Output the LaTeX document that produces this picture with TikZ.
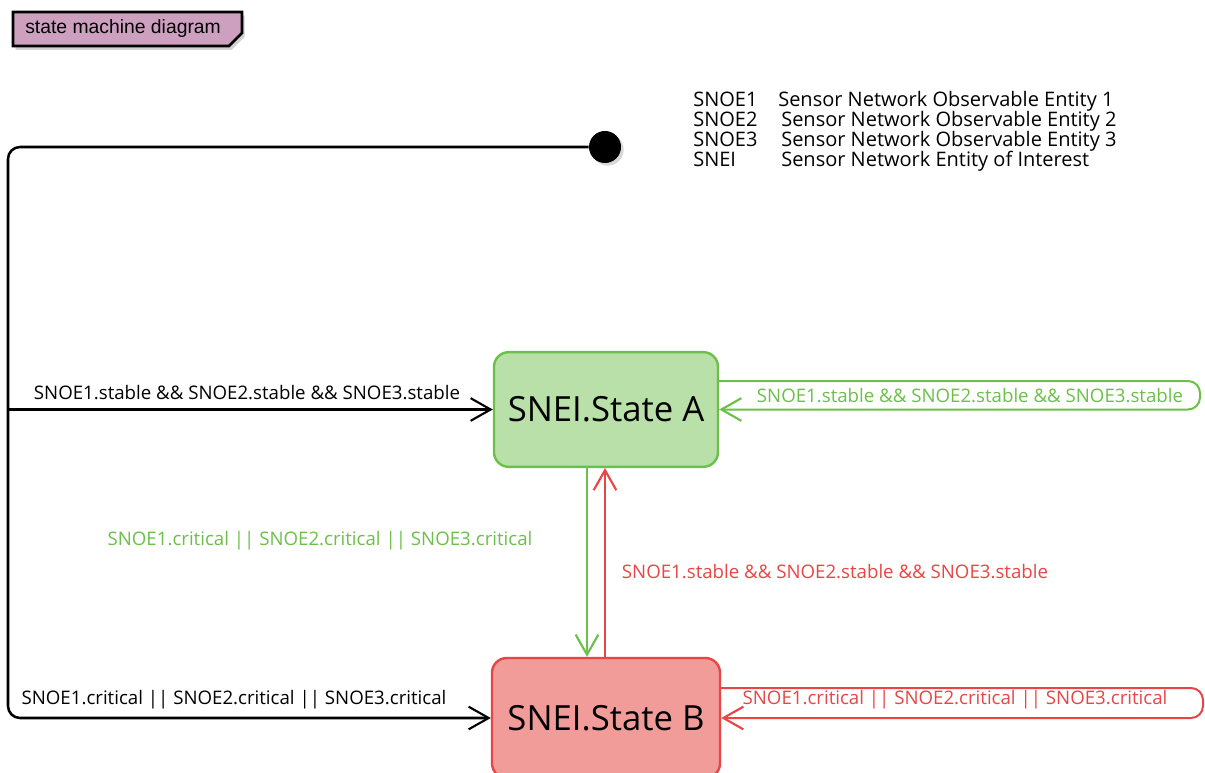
\documentclass[tikz,border=0pt]{standalone}
\usepackage{fontspec}
\setmainfont{Open Sans}
\newfontfamily\handfont{Open Sans}
\newfontfamily\tabfont{Liberation Sans}
\usetikzlibrary{arrows.meta,shadows,calc}

\definecolor{tabpink}{RGB}{206,160,192}
\definecolor{agreenfill}{RGB}{184,224,168}
\definecolor{agreen}{RGB}{108,192,74}
\definecolor{bredfill}{RGB}{241,156,153}
\definecolor{bred}{RGB}{232,70,70}

\tikzset{
  barb/.style={-{Straight Barb[length=15pt,width=17pt,line width=1.6pt]}},
  statebox/.style={rounded corners=11pt, line width=1.8pt, minimum width=168pt,
    font=\handfont\fontsize{26}{30}\selectfont},
  trans/.style={line width=1.9pt, rounded corners=9pt, barb},
  ctrans/.style={line width=1.5pt, rounded corners=9pt, barb},
  lbl/.style={font=\handfont\fontsize{14}{16}\selectfont, inner sep=0pt},
  legend/.style={font=\handfont\fontsize{15}{18}\selectfont, inner sep=0pt, anchor=base west},
}

\begin{document}
\begin{tikzpicture}[x=0.75pt,y=-0.75pt]
\clip (0,0) rectangle (1205,773);
\fill[white] (0,0) rectangle (1205,773);

% diagram frame tab
\draw[line width=2pt, fill=tabpink, drop shadow={opacity=0.35, shadow xshift=2pt, shadow yshift=-3pt}]
  (13,12) -- (242,12) -- (242,33) -- (229,46) -- (13,46) -- cycle;
\node[font=\tabfont\fontsize{14.5}{17}\selectfont, anchor=west, inner sep=0pt] (title) at (25,29) {state machine diagram};

% legend
\node[legend] (k1) at (693,107) {SNOE1};
\node[legend] (d1) at (778,107) {Sensor Network Observable Entity 1};
\node[legend] (k2) at (693,127) {SNOE2};
\node[legend] (d2) at (781,127) {Sensor Network Observable Entity 2};
\node[legend] (k3) at (693,147) {SNOE3};
\node[legend] (d3) at (781,147) {Sensor Network Observable Entity 3};
\node[legend] (k4) at (693,167) {SNEI};
\node[legend] (d4) at (781,167) {Sensor Network Entity of Interest};

% initial pseudo-state
\node[circle, fill=black, minimum size=24pt, inner sep=0pt,
  drop shadow={opacity=0.3, shadow xshift=2pt, shadow yshift=-2pt}] (init) at (605,147) {};

% states
\node[statebox, draw=agreen, fill=agreenfill, minimum height=86pt] (stateA) at (606,409.5) {SNEI.State A};
\node[statebox, draw=bred, fill=bredfill, minimum width=171pt, minimum height=90pt, text depth=0pt] (stateB) at (606,718) {SNEI.State B};

% routing points
\coordinate (lt) at (8,147);
\coordinate (lb) at (8,718);
\coordinate (br) at (8,409.5);
\coordinate (gx) at (587,0);
\coordinate (rx) at (605,0);
\coordinate (aLoopOut) at (718,381);
\coordinate (aLoopFar) at (1200,381);
\coordinate (aLoopBack) at (1200,409.5);
\coordinate (bLoopOut) at (720,688);
\coordinate (bLoopFar) at (1203,688);
\coordinate (bLoopBack) at (1203,718);

% transitions from the initial state
\draw[trans] (init.west) -- (lt) -- (lb) -- (stateB.west);
\draw[trans, rounded corners=0pt] (br) -- (stateA.west);
\node[lbl] (l1) at (247,393) {SNOE1.stable \&\& SNOE2.stable \&\& SNOE3.stable};
\node[lbl] (l2) at (234,700) {SNOE1.critical || SNOE2.critical || SNOE3.critical};

% A <-> B
\draw[ctrans, agreen] (stateA.south -| gx) -- (stateB.north -| gx);
\draw[ctrans, bred] (stateB.north -| rx) -- (stateA.south -| rx);
\node[lbl, text=agreen] (l3) at (320,541) {SNOE1.critical || SNOE2.critical || SNOE3.critical};
\node[lbl, text=bred] (l4) at (835,572) {SNOE1.stable \&\& SNOE2.stable \&\& SNOE3.stable};

% self transitions
\draw[ctrans, agreen] (aLoopOut) -- (aLoopFar) -- (aLoopBack) -- (stateA.east);
\node[lbl, text=agreen] (l5) at (970,396) {SNOE1.stable \&\& SNOE2.stable \&\& SNOE3.stable};
\draw[ctrans, bred] (bLoopOut) -- (bLoopFar) -- (bLoopBack) -- (stateB.east);
\node[lbl, text=bred] (l6) at (955,700) {SNOE1.critical || SNOE2.critical || SNOE3.critical};
\end{tikzpicture}
\end{document}
